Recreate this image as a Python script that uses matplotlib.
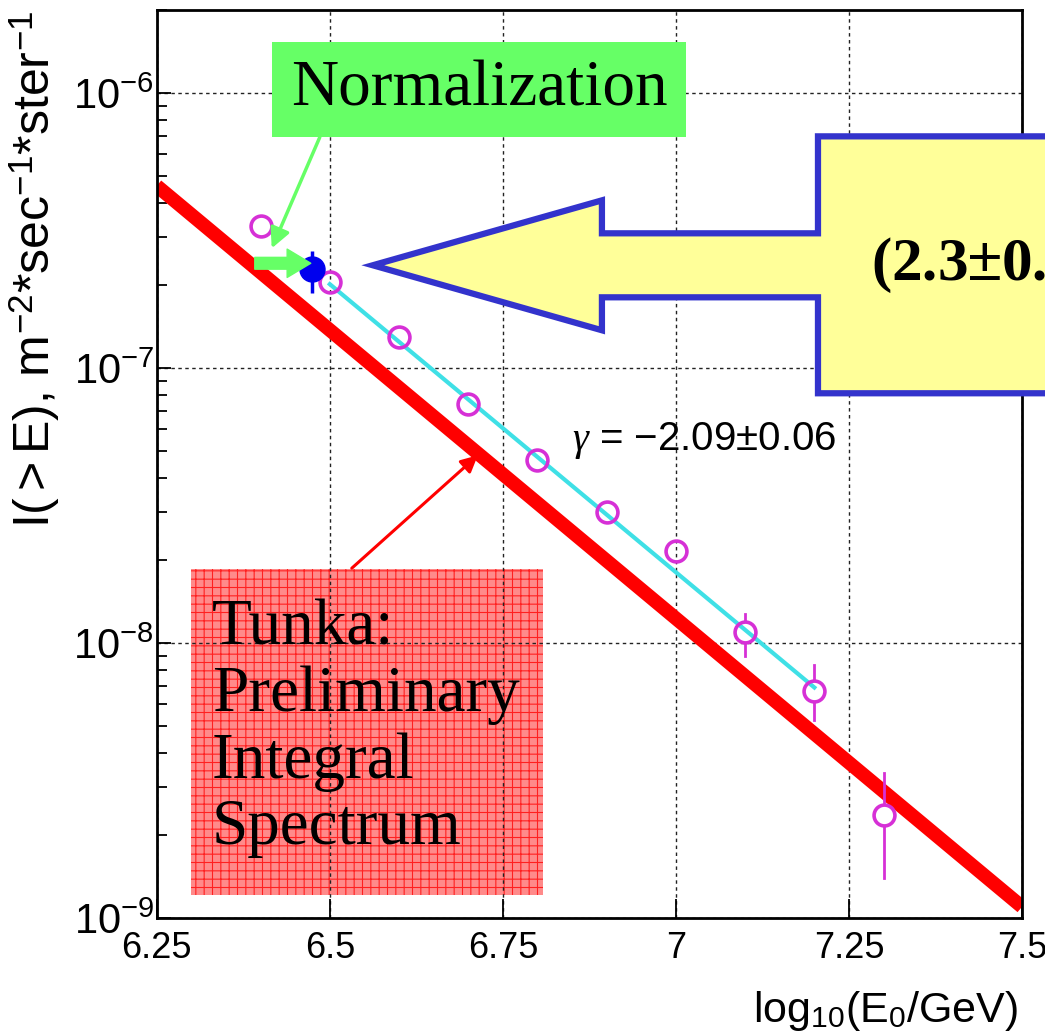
import matplotlib
matplotlib.use('Agg')
import matplotlib.pyplot as plt
from matplotlib.patches import Polygon, Rectangle
from matplotlib.ticker import LogLocator, NullFormatter

# measured integral spectrum points
x_pts = [6.4, 6.5, 6.6, 6.7, 6.8, 6.9, 7.0, 7.1, 7.2, 7.3]
y_pts = [3.3e-7, 2.05e-7, 1.3e-7, 7.4e-8, 4.65e-8, 3.0e-8, 2.17e-8, 1.1e-8, 6.7e-9, 2.37e-9]
y_hi = [3.45e-7, 2.15e-7, 1.36e-7, 7.7e-8, 4.9e-8, 3.15e-8, 2.3e-8, 1.28e-8, 8.3e-9, 3.36e-9]
y_lo = [3.15e-7, 1.95e-7, 1.24e-7, 7.05e-8, 4.4e-8, 2.85e-8, 2.05e-8, 9.0e-9, 5.24e-9, 1.40e-9]

# normalization point
norm_x = [6.475]
norm_y = [2.3e-7]
norm_hi = [2.67e-7]
norm_lo = [1.88e-7]

# power-law fit and Tunka line
fit_x = [6.5, 7.2]
fit_y = [2.02e-7, 6.9e-9]
tunka_x = [6.25, 7.5]
tunka_y = [4.6e-7, 1.1e-9]

x_ticks = [6.25, 6.5, 6.75, 7, 7.25, 7.5]
x_ticklabels = ['6.25', '6.5', '6.75', '7', '7.25', '7.5']

plt.rcParams['font.family'] = ['Liberation Sans', 'DejaVu Sans']
plt.rcParams['mathtext.fontset'] = 'custom'
plt.rcParams['mathtext.rm'] = 'Liberation Sans'
plt.rcParams['mathtext.it'] = 'Liberation Serif:italic'
plt.rcParams['hatch.linewidth'] = 0.8

fig = plt.figure(figsize=(10.45, 10.34), dpi=100)
ax = fig.add_axes([0.150, 0.112, 0.828, 0.878])

ax.set_yscale('log')
ax.set_xlim(6.25, 7.5)
ax.set_ylim(1e-9, 2e-6)

ax.plot(tunka_x, tunka_y, color='#ff0000', lw=10, solid_capstyle='butt', zorder=2)
ax.plot(fit_x, fit_y, color='#3fe0e6', lw=3, zorder=3)

# error bars drawn outside the open circles (marker radius ~0.04 decade)
gap = 10 ** 0.04
for x, y, lo, hi in zip(x_pts, y_pts, y_lo, y_hi):
    if hi > y * gap:
        ax.plot([x, x], [y * gap, hi], color='#d630d6', lw=2, zorder=4)
    if lo < y / gap:
        ax.plot([x, x], [lo, y / gap], color='#d630d6', lw=2, zorder=4)
ax.plot(x_pts, y_pts, 'o', ms=15, mfc='none', mec='#d630d6', mew=2.6, zorder=4)

n_lo = [y - l for y, l in zip(norm_y, norm_lo)]
n_hi = [h - y for y, h in zip(norm_y, norm_hi)]
ax.errorbar(norm_x, norm_y, yerr=[n_lo, n_hi], fmt='o', ms=18, color='#0000ee',
            elinewidth=2.5, capsize=0, zorder=5)

ax.set_xticks(x_ticks)
ax.set_xticklabels(x_ticklabels)
ax.yaxis.set_major_locator(LogLocator(base=10, numticks=10))
ax.yaxis.set_minor_locator(LogLocator(base=10, subs=range(2, 10), numticks=20))
ax.yaxis.set_minor_formatter(NullFormatter())
ax.tick_params(axis='both', which='major', direction='in', width=1.3)
ax.tick_params(axis='x', which='major', length=14, pad=9, labelsize=26)
ax.tick_params(axis='y', which='major', length=10, pad=2, labelsize=30)
ax.tick_params(axis='y', which='minor', direction='in', length=7, width=1.3)
for s in ax.spines.values():
    s.set_linewidth(2)

ax.set_axisbelow(True)
ax.grid(True, which='major', color='#222222', linestyle=(0, (2.5, 2.5)), lw=1)

ax.set_ylabel(r'I($>$E), m$^{-2}$*sec$^{-1}$*ster$^{-1}$', fontsize=36, loc='top')
ax.yaxis.set_label_coords(-0.11, 1.0)
ax.set_xlabel(r'log$_{10}$(E$_0$/GeV)', fontsize=31, loc='right')
ax.xaxis.set_label_coords(0.995, -0.078)

# gamma label
ax.text(0.48, 0.526, r'$\gamma$ = $-$2.09$\pm$0.06', transform=ax.transAxes,
        fontsize=29, va='center', ha='left', zorder=6)

# Normalization box and arrows
ax.add_patch(Rectangle((0.133, 0.860), 0.479, 0.105, transform=ax.transAxes,
                       facecolor='#66ff66', edgecolor='none', zorder=6, clip_on=False))
ax.text(0.3725, 0.912, 'Normalization', transform=ax.transAxes, family='Liberation Serif',
        fontsize=47, ha='center', va='center', zorder=7)
ax.annotate('', xy=(0.1329, 0.7379), xytext=(0.1884, 0.8602), xycoords='axes fraction',
            arrowprops=dict(arrowstyle='-|>', color='#66ff66', lw=2.5, mutation_scale=30,
                            shrinkA=0, shrinkB=0), zorder=6)
ax.annotate('', xy=(0.1780, 0.7214), xytext=(0.1133, 0.7214), xycoords='axes fraction',
            arrowprops=dict(arrowstyle='simple,head_width=1.2,head_length=1.0,tail_width=0.5',
                            color='#66ff66', mutation_scale=17, shrinkA=0, shrinkB=0), zorder=6)

# Tunka box
ax.add_patch(Rectangle((0.0393, 0.0253), 0.4069, 0.3591, transform=ax.transAxes,
                       facecolor='#ff8a8a', edgecolor='#ff2020', lw=0, hatch='++', zorder=0.2))
ax.text(0.0636, 0.352, 'Tunka:\nPreliminary\nIntegral\nSpectrum', transform=ax.transAxes,
        family='Liberation Serif', fontsize=47, ha='left', va='top', linespacing=1.16, zorder=7)
ax.annotate('', xy=(0.3711, 0.5099), xytext=(0.2254, 0.3855), xycoords='axes fraction',
            arrowprops=dict(arrowstyle='-|>', color='#ff0000', lw=2.2, mutation_scale=25,
                            shrinkA=0, shrinkB=0), zorder=6)

# big arrow with result
arrow_pts = [(0.2497, 0.7192), (0.5145, 0.7907), (0.5145, 0.7544), (0.7642, 0.7544),
             (0.7642, 0.8612), (1.06, 0.8612), (1.06, 0.5782), (0.7642, 0.5782),
             (0.7642, 0.6839), (0.5145, 0.6839), (0.5145, 0.6476)]
ax.add_patch(Polygon(arrow_pts, closed=True, transform=ax.transAxes, facecolor='#ffff99',
                     edgecolor='#3333cc', lw=4.5, joinstyle='miter', zorder=6, clip_on=False))
ax.text(0.825, 0.7192, r'(2.3$\pm$0.', transform=ax.transAxes, family='Liberation Serif',
        fontsize=44, fontweight='bold', ha='left', va='center', zorder=7, clip_on=False)

fig.savefig('out.png', dpi=100)
